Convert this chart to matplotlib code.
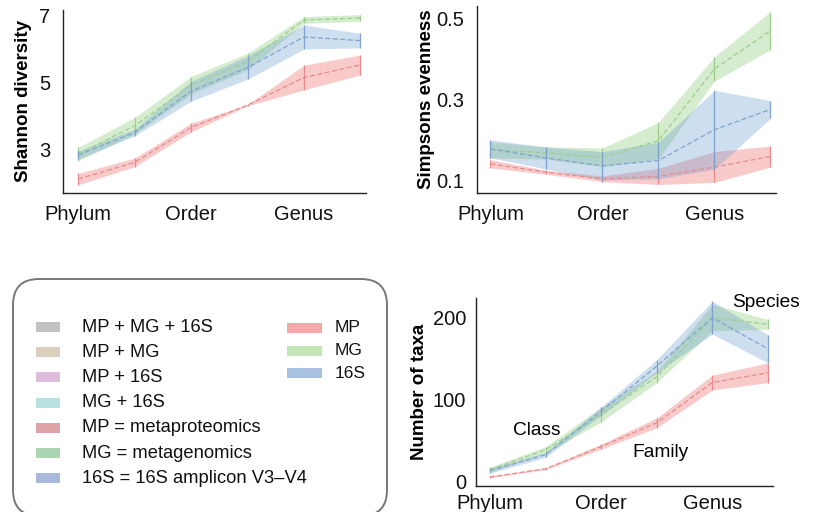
import matplotlib
matplotlib.use("Agg")
import matplotlib.pyplot as plt
from matplotlib.patches import FancyBboxPatch, Rectangle
import numpy as np

plt.rcParams['font.family'] = ['Liberation Sans', 'DejaVu Sans']

levels = ['Phylum', 'Class', 'Order', 'Family', 'Genus', 'Species']
tick_levels = ['Phylum', 'Order', 'Genus']

shannon_mp = [2.10, 2.60, 3.65, 4.32, 5.15, 5.53]
shannon_mp_err = [0.17, 0.13, 0.13, 0.02, 0.37, 0.30]
shannon_mg = [2.85, 3.70, 4.92, 5.63, 6.88, 6.94]
shannon_mg_err = [0.20, 0.25, 0.26, 0.25, 0.10, 0.10]
shannon_16s = [2.82, 3.50, 4.74, 5.45, 6.37, 6.26]
shannon_16s_err = [0.12, 0.10, 0.30, 0.35, 0.36, 0.22]

simpson_mp = [0.141, 0.120, 0.104, 0.110, 0.133, 0.159]
simpson_mp_err = [0.010, 0.005, 0.007, 0.020, 0.038, 0.026]
simpson_mg = [0.175, 0.168, 0.157, 0.198, 0.375, 0.469]
simpson_mg_err = [0.020, 0.015, 0.023, 0.045, 0.030, 0.047]
simpson_16s = [0.178, 0.155, 0.136, 0.149, 0.225, 0.275]
simpson_16s_err = [0.022, 0.027, 0.035, 0.045, 0.097, 0.022]

taxa_mp = [6, 16, 43, 72, 121, 133]
taxa_mp_err = [1, 1, 3, 6, 9, 12]
taxa_mg = [15, 39, 82, 128, 200, 192]
taxa_mg_err = [3, 4, 9, 7, 16, 6]
taxa_16s = [13.5, 33, 86, 141, 200, 162]
taxa_16s_err = [3, 3, 5, 8, 20, 17]

legend_left_labels = ['MP + MG + 16S', 'MP + MG', 'MP + 16S', 'MG + 16S',
                      'MP = metaproteomics', 'MG = metagenomics',
                      '16S = 16S amplicon V3\u2013V4']
legend_left_colors = ['#c2c2c2', '#ddcfbd', '#dcbddc', '#b8e2e2',
                      '#dea4a8', '#acd6b2', '#a9b8db']
legend_right_labels = ['MP', 'MG', '16S']
legend_right_colors = ['#f5a8a8', '#c2e6b6', '#a9c1e0']

fill_colors = {'MP': '#ec5f5f', 'MG': '#82c86c', '16S': '#6a9bd0'}
line_colors = {'MP': '#e88a8a', 'MG': '#9ccf8e', '16S': '#7fa3cc'}

W, H = 814, 512
fig = plt.figure(figsize=(W / 100, H / 100), dpi=100)


def ax_at(x0, y0, x1, y1):
    return fig.add_axes([x0 / W, 1 - y1 / H, (x1 - x0) / W, (y1 - y0) / H])


def draw_series(ax, y, err, key):
    x = np.arange(len(levels))
    y = np.asarray(y, float)
    e = np.asarray(err, float)
    ax.fill_between(x, y - e, y + e, color=fill_colors[key], alpha=0.33, lw=0)
    ax.plot(x, y, color=line_colors[key], lw=0.9, ls=(0, (4, 2)))
    ax.vlines(x, y - e, y + e, color=line_colors[key], lw=0.9)


def style(ax, ylabel, yticks, yticklabels, xlim, ylim, xpad, ypad=9):
    for s in ['top', 'right']:
        ax.spines[s].set_visible(False)
    for s in ['left', 'bottom']:
        ax.spines[s].set_color('#222222')
        ax.spines[s].set_linewidth(1.0)
    ax.set_xticks([levels.index(t) for t in tick_levels])
    ax.set_xticklabels(tick_levels)
    ax.set_yticks(yticks)
    ax.set_yticklabels(yticklabels)
    ax.tick_params(axis='both', length=0, labelsize=14.5, colors='#111111')
    ax.tick_params(axis='x', pad=xpad)
    ax.tick_params(axis='y', pad=ypad)
    ax.set_xlim(*xlim)
    ax.set_ylim(*ylim)
    ax.set_ylabel(ylabel, fontsize=13.5, fontweight='bold')


# Shannon
ax1 = ax_at(63, 10, 366, 193)
draw_series(ax1, shannon_mp, shannon_mp_err, 'MP')
draw_series(ax1, shannon_mg, shannon_mg_err, 'MG')
draw_series(ax1, shannon_16s, shannon_16s_err, '16S')
style(ax1, 'Shannon diversity', [3, 5, 7], ['3', '5', '7'], (-0.27, 5.1), (1.68, 7.18), 9)
ax1.yaxis.set_label_coords(-0.103, 0.5)

# Simpson
ax2 = ax_at(477, 6, 776, 193)
draw_series(ax2, simpson_mp, simpson_mp_err, 'MP')
draw_series(ax2, simpson_mg, simpson_mg_err, 'MG')
draw_series(ax2, simpson_16s, simpson_16s_err, '16S')
style(ax2, 'Simpsons evenness', [0.1, 0.3, 0.5], ['0.1', '0.3', '0.5'], (-0.24, 5.1), (0.069, 0.53), 9)
ax2.yaxis.set_label_coords(-0.14, 0.5)

# Number of taxa
ax3 = ax_at(476, 298, 773, 486)
draw_series(ax3, taxa_mp, taxa_mp_err, 'MP')
draw_series(ax3, taxa_mg, taxa_mg_err, 'MG')
draw_series(ax3, taxa_16s, taxa_16s_err, '16S')
style(ax3, 'Number of taxa', [0, 100, 200], ['0', '100', '200'], (-0.25, 5.09), (-5, 224), 6, ypad=7)
ax3.yaxis.set_label_coords(-0.16, 0.5)
ax3.text(levels.index('Class') - 0.15, 63, 'Class', fontsize=13.8, ha='center', va='center')
ax3.text(levels.index('Family') + 0.07, 36, 'Family', fontsize=13.8, ha='center', va='center')
ax3.text(levels.index('Species') - 0.04, 218, 'Species', fontsize=13.8, ha='center', va='center')

# Legend box (overlay in pixel coordinates)
lax = fig.add_axes([0, 0, 1, 1], zorder=-1)
lax.set_xlim(0, W)
lax.set_ylim(H, 0)
lax.axis('off')
box = FancyBboxPatch((13, 279), 374, 237, boxstyle='round,pad=0,rounding_size=26',
                     fc='white', ec='#777777', lw=1.4)
lax.add_patch(box)
for i, (lab, col) in enumerate(zip(legend_left_labels, legend_left_colors)):
    yc = 327 + i * 25.2
    lax.add_patch(Rectangle((36, yc - 5), 24, 10, fc=col, ec='none'))
    lax.text(82, yc, lab, fontsize=13.2, va='center', ha='left', color='#111111')
for i, (lab, col) in enumerate(zip(legend_right_labels, legend_right_colors)):
    yc = 328 + i * 22.5
    lax.add_patch(Rectangle((287, yc - 5), 35, 10, fc=col, ec='none'))
    lax.text(335, yc, lab, fontsize=12.5, va='center', ha='left', color='#111111')

fig.savefig('out.png', dpi=100)
